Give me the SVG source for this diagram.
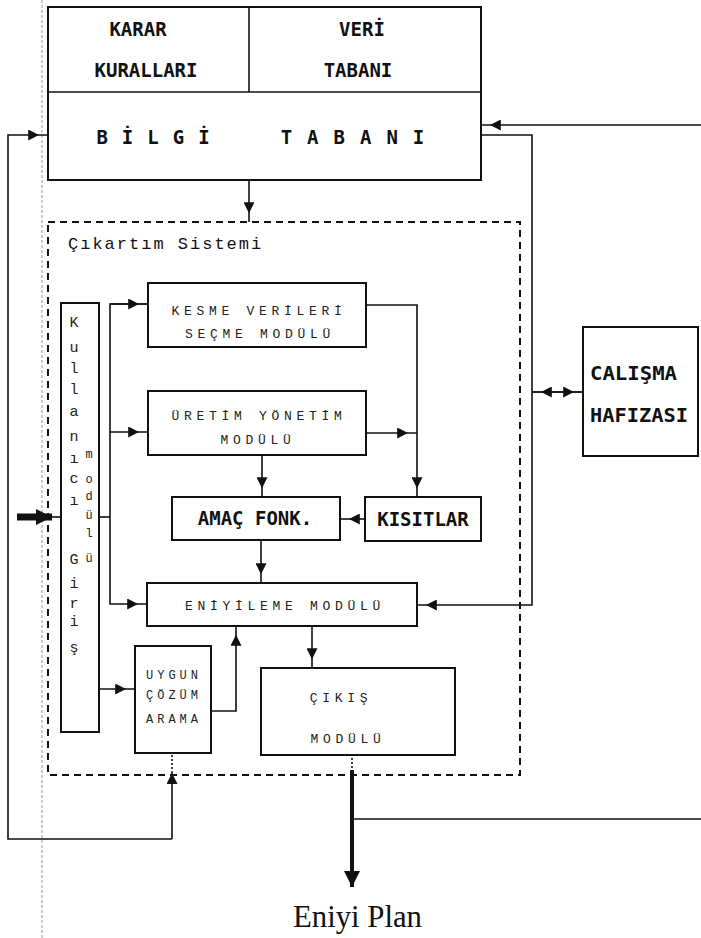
<svg xmlns="http://www.w3.org/2000/svg" width="701" height="938" viewBox="0 0 701 938">
<style>
.box{fill:none;stroke:#111;stroke-width:2}
.ln{fill:none;stroke:#111;stroke-width:1.6}
.dash{fill:none;stroke:#111;stroke-width:2;stroke-dasharray:7 5}
.big{font-family:"DejaVu Sans Mono","Liberation Mono",monospace;font-weight:bold;font-size:19px;fill:#111;text-anchor:middle}
.dot{font-family:"Liberation Mono","DejaVu Sans Mono",monospace;font-size:13px;fill:#222;text-anchor:middle;letter-spacing:4.7px}
.vt{font-family:"Liberation Mono","DejaVu Sans Mono",monospace;font-size:15px;fill:#222;text-anchor:middle}
.ttl{font-family:"Liberation Mono","DejaVu Sans Mono",monospace;font-size:17px;fill:#111;letter-spacing:2px}
.plan{font-family:"Liberation Serif","DejaVu Serif",serif;font-size:32px;fill:#111}
</style>
<defs>
<marker id="ah" viewBox="0 0 10 10" refX="18" refY="5" markerWidth="11" markerHeight="11" markerUnits="userSpaceOnUse" orient="auto"><path d="M0,0 L10,5 L0,10 z" fill="#111"/></marker>
<marker id="at" viewBox="0 0 10 10" refX="10" refY="5" markerWidth="11" markerHeight="11" markerUnits="userSpaceOnUse" orient="auto"><path d="M0,0 L10,5 L0,10 z" fill="#111"/></marker>
<marker id="ab" viewBox="0 0 10 10" refX="10" refY="5" markerWidth="16" markerHeight="16" markerUnits="userSpaceOnUse" orient="auto"><path d="M0,0 L10,5 L0,10 z" fill="#111"/></marker>
</defs>
<line x1="42" y1="0" x2="42" y2="938" stroke="#999" stroke-width="1" stroke-dasharray="3 2"/>

<g id="bilgi-tabani">
<rect class="box" x="48" y="7" width="433" height="173"/>
<line class="ln" x1="48" y1="92" x2="481" y2="92"/>
<line class="ln" x1="249" y1="7" x2="249" y2="92"/>
<text class="big" x="138" y="36">KARAR</text>
<text class="big" x="146" y="77">KURALLARI</text>
<text class="big" x="362" y="36">VERİ</text>
<text class="big" x="358" y="77">TABANI</text>
<text class="big" x="160" y="144" style="letter-spacing:14px">BİLGİ</text>
<text class="big" x="360" y="144" style="letter-spacing:15px">TABANI</text>
</g>

<g id="cikartim-sistemi">
<rect class="dash" x="48" y="222" width="472" height="553"/>
<text class="ttl" x="68" y="249">Çıkartım Sistemi</text>
</g>

<g id="kullanici">
<rect class="box" x="61" y="303" width="38" height="429"/>
<text class="vt" x="74" y="327">K</text>
<text class="vt" x="74" y="352">u</text>
<text class="vt" x="74" y="373">l</text>
<text class="vt" x="74" y="394">l</text>
<text class="vt" x="74" y="416">a</text>
<text class="vt" x="74" y="441">n</text>
<text class="vt" x="74" y="463">ı</text>
<text class="vt" x="74" y="483">c</text>
<text class="vt" x="74" y="505">ı</text>
<text class="vt" x="74" y="564">G</text>
<text class="vt" x="74" y="588">i</text>
<text class="vt" x="74" y="608">r</text>
<text class="vt" x="74" y="626">i</text>
<text class="vt" x="74" y="652">ş</text>
<text class="vt" x="89" y="458" style="font-size:12px">m</text>
<text class="vt" x="89" y="483" style="font-size:12px">o</text>
<text class="vt" x="89" y="500" style="font-size:12px">d</text>
<text class="vt" x="89" y="519" style="font-size:12px">ü</text>
<text class="vt" x="89" y="537" style="font-size:12px">l</text>
<text class="vt" x="89" y="562" style="font-size:12px">ü</text>
</g>

<g id="kesme">
<rect class="box" x="148" y="283" width="218" height="64"/>
<text class="dot" x="259" y="315">KESME VERİLERİ</text>
<text class="dot" x="260" y="338">SEÇME MODÜLÜ</text>
</g>

<g id="uretim">
<rect class="box" x="148" y="391" width="218" height="64"/>
<text class="dot" x="259" y="420">ÜRETİM YÖNETİM</text>
<text class="dot" x="258" y="444">MODÜLÜ</text>
</g>

<g id="amac">
<rect class="box" x="172" y="497" width="168" height="43"/>
<text class="big" x="255" y="525">AMAÇ FONK.</text>
</g>

<g id="kisitlar">
<rect class="box" x="365" y="497" width="116" height="44"/>
<text class="big" x="423" y="526">KISITLAR</text>
</g>

<g id="eniyileme">
<rect class="box" x="147" y="583" width="270" height="43"/>
<text class="dot" x="285" y="610">ENİYİLEME MODÜLÜ</text>
</g>

<g id="uygun">
<rect class="box" x="135" y="646" width="76" height="107"/>
<text class="dot" x="174" y="679" style="letter-spacing:4px;font-size:12px">UYGUN</text>
<text class="dot" x="174" y="699" style="letter-spacing:4px;font-size:12px">ÇÖZÜM</text>
<text class="dot" x="174" y="723" style="letter-spacing:4px;font-size:12px">ARAMA</text>
</g>

<g id="cikis">
<rect class="box" x="261" y="668" width="194" height="87"/>
<text class="dot" x="341" y="702">ÇIKIŞ</text>
<text class="dot" x="348" y="743">MODÜLÜ</text>
</g>

<g id="calisma">
<rect class="box" x="583" y="327" width="115" height="129"/>
<text class="big" x="590" y="380" style="text-anchor:start" textLength="87" lengthAdjust="spacingAndGlyphs">CALIŞMA</text>
<text class="big" x="590" y="422" style="text-anchor:start" textLength="98" lengthAdjust="spacingAndGlyphs">HAFIZASI</text>
</g>

<g id="plan">
<text class="plan" x="293" y="927" textLength="129" lengthAdjust="spacingAndGlyphs">Eniyi Plan</text>
</g>

<g id="connectors">
<polyline class="ln" points="701,125 481,125" marker-end="url(#ah)"/>
<polyline class="ln" points="172,839 8,839 8,135 48,135" marker-end="url(#ah)"/>
<polyline class="ln" points="172,839 172,773" marker-end="url(#at)"/>
<line class="ln" x1="172" y1="773" x2="172" y2="753" stroke-dasharray="2 2"/>
<polyline class="ln" points="481,135 532,135 532,605 417,605" marker-end="url(#ah)"/>
<line class="ln" x1="249" y1="180" x2="249" y2="222" marker-end="url(#ah)"/>
<line class="ln" x1="532" y1="392" x2="583" y2="392" marker-end="url(#ah)"/>
<line class="ln" x1="583" y1="392" x2="532" y2="392" marker-end="url(#ah)"/>
<line x1="17" y1="517" x2="52" y2="517" stroke="#111" stroke-width="7" marker-end="url(#ab)"/>
<line class="ln" x1="52" y1="517" x2="61" y2="517"/>
<line class="ln" x1="99" y1="517" x2="110" y2="517"/>
<polyline class="ln" points="148,304 110,304 110,604 147,604" marker-end="url(#ah)"/>
<line class="ln" x1="110" y1="304" x2="148" y2="304" marker-end="url(#ah)"/>
<line class="ln" x1="110" y1="432" x2="148" y2="432" marker-end="url(#ah)"/>
<line class="ln" x1="99" y1="689" x2="135" y2="689" marker-end="url(#ah)"/>
<polyline class="ln" points="366,305 417,305 417,497" marker-end="url(#ah)"/>
<line class="ln" x1="366" y1="433" x2="417" y2="433" marker-end="url(#ah)"/>
<line class="ln" x1="262" y1="455" x2="262" y2="497" marker-end="url(#ah)"/>
<line class="ln" x1="365" y1="519" x2="340" y2="519" marker-end="url(#ah)"/>
<line class="ln" x1="261" y1="540" x2="261" y2="583" marker-end="url(#ah)"/>
<line class="ln" x1="312" y1="626" x2="312" y2="668" marker-end="url(#ah)"/>
<polyline class="ln" points="211,711 236,711 236,626" marker-end="url(#ah)"/>
<line class="ln" x1="352" y1="754" x2="352" y2="770" stroke-dasharray="2 2"/>
<line x1="352" y1="770" x2="352" y2="887" stroke="#111" stroke-width="4" marker-end="url(#ab)"/>
<line class="ln" x1="354" y1="819" x2="701" y2="819"/>
</g>
</svg>
